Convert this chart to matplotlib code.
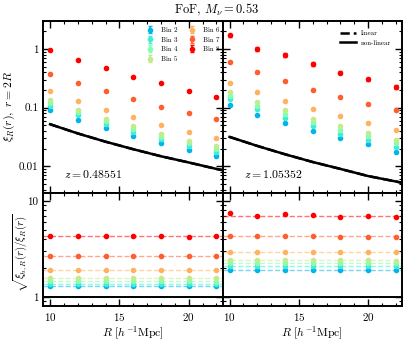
import numpy as np
import matplotlib
matplotlib.use("Agg")
import matplotlib.pyplot as plt
from matplotlib.ticker import FuncFormatter, MultipleLocator, NullFormatter

plt.rcParams['font.family'] = 'cmr10'
plt.rcParams['mathtext.fontset'] = 'cm'
plt.rcParams['axes.unicode_minus'] = False
plt.rcParams['axes.formatter.use_mathtext'] = True

# ---- data ----
R = [10, 12, 14, 16, 18, 20, 22]
bins = ['Bin 2', 'Bin 3', 'Bin 4', 'Bin 5', 'Bin 6', 'Bin 7', 'Bin 8']
redshifts = ['0.48551', '1.05352']

# xi_hh(2R) for each bin, z = 0.48551
xi_z0 = [
    [0.091, 0.062, 0.045, 0.033, 0.0246, 0.0189, 0.0150],
    [0.106, 0.074, 0.052, 0.038, 0.029, 0.0218, 0.0173],
    [0.120, 0.083, 0.059, 0.043, 0.032, 0.0245, 0.0195],
    [0.133, 0.091, 0.065, 0.048, 0.036, 0.027, 0.0217],
    [0.189, 0.129, 0.092, 0.068, 0.051, 0.039, 0.030],
    [0.378, 0.259, 0.189, 0.138, 0.103, 0.081, 0.064],
    [0.95, 0.65, 0.47, 0.336, 0.259, 0.194, 0.151],
]
# xi_hh(2R) for each bin, z = 1.05352
xi_z1 = [
    [0.110, 0.074, 0.054, 0.040, 0.030, 0.0237, 0.0176],
    [0.138, 0.093, 0.067, 0.049, 0.036, 0.028, 0.021],
    [0.160, 0.108, 0.078, 0.057, 0.042, 0.033, 0.0247],
    [0.182, 0.123, 0.091, 0.065, 0.048, 0.0375, 0.028],
    [0.266, 0.182, 0.129, 0.096, 0.072, 0.055, 0.042],
    [0.59, 0.405, 0.284, 0.201, 0.151, 0.115, 0.091],
    [1.69, 0.99, 0.78, 0.554, 0.394, 0.303, 0.227],
]
# fractional errors
err_z0 = [0.01, 0.01, 0.01, 0.01, 0.015, 0.02, 0.03]
err_z1 = [0.01, 0.01, 0.01, 0.015, 0.02, 0.03, 0.07]

# matter correlation (linear / non-linear overlap)
R_curve = [10, 12, 14, 16, 18, 20, 22, 23]
xi_m_z0 = [0.052, 0.0362, 0.0262, 0.0195, 0.0148, 0.0116, 0.0090, 0.0081]
xi_m_z1 = [0.0316, 0.0222, 0.0160, 0.0118, 0.0090, 0.0068, 0.0055, 0.0049]

# sqrt(xi_hh / xi) bias
bias_z0 = [
    [1.31, 1.31, 1.31, 1.31, 1.30, 1.31, 1.30],
    [1.38, 1.38, 1.38, 1.38, 1.38, 1.38, 1.37],
    [1.46, 1.46, 1.46, 1.46, 1.46, 1.46, 1.45],
    [1.58, 1.58, 1.59, 1.58, 1.58, 1.58, 1.57],
    [1.90, 1.90, 1.90, 1.90, 1.90, 1.89, 1.89],
    [2.70, 2.69, 2.70, 2.69, 2.70, 2.69, 2.69],
    [4.33, 4.30, 4.31, 4.27, 4.32, 4.25, 4.27],
]
bias_z1 = [
    [1.90, 1.90, 1.90, 1.90, 1.90, 1.90, 1.89],
    [2.09, 2.09, 2.09, 2.09, 2.09, 2.09, 2.08],
    [2.26, 2.26, 2.26, 2.26, 2.26, 2.26, 2.25],
    [2.41, 2.41, 2.41, 2.41, 2.41, 2.41, 2.40],
    [2.96, 2.94, 2.94, 2.94, 2.94, 2.94, 2.93],
    [4.36, 4.30, 4.29, 4.27, 4.25, 4.24, 4.23],
    [7.46, 6.95, 7.23, 7.11, 6.83, 6.89, 6.73],
]

colors = [plt.cm.rainbow(k / 8.0) for k in range(2, 9)]

fig = plt.figure(figsize=(4.07, 3.42), dpi=100)
gs = fig.add_gridspec(2, 2, height_ratios=[172, 113], wspace=0, hspace=0,
                      left=0.106, right=0.988, top=0.939, bottom=0.105)
axes_top = [fig.add_subplot(gs[0, 0]), None]
axes_top[1] = fig.add_subplot(gs[0, 1], sharey=axes_top[0])
axes_bot = [fig.add_subplot(gs[1, 0], sharex=axes_top[0]), None]
axes_bot[1] = fig.add_subplot(gs[1, 1], sharey=axes_bot[0], sharex=axes_top[1])

fmt = FuncFormatter(lambda v, p: '%g' % v)

for j, (xis, errs, xim, bias, zlab) in enumerate(zip(
        [xi_z0, xi_z1], [err_z0, err_z1], [xi_m_z0, xi_m_z1],
        [bias_z0, bias_z1], redshifts)):
    ax = axes_top[j]
    bx = axes_bot[j]
    handles = []
    for i, (lab, c) in enumerate(zip(bins, colors)):
        y = np.array(xis[i])
        h = ax.errorbar(R, y, yerr=errs[i] * y, fmt='o', ms=3, color=c,
                        elinewidth=1.2, capsize=1.5, capthick=1.0, label=lab)
        handles.append(h)
        b = np.array(bias[i])
        bx.plot(R, b, 'o', ms=3, color=c, zorder=3)
        bx.axhline(b.mean(), ls='--', lw=1.0, color=c, alpha=0.55)
    l1, = ax.plot(R_curve, xim, 'k--', lw=1.8, label='linear')
    l2, = ax.plot(R_curve, xim, 'k-', lw=1.8, label='non-linear')
    bx.axhline(1.0, color='k', lw=1.4)
    ax.text(0.117, 0.11, r'$z = %s$' % zlab, transform=ax.transAxes,
            fontsize=8.5, ha='left', va='center')

    ax.set_yscale('log')
    bx.set_yscale('log')
    ax.set_xlim(9.5, 22.45)
    bx.set_xlim(9.5, 22.45)
    for a in (ax, bx):
        a.xaxis.set_major_locator(MultipleLocator(5))
        a.xaxis.set_minor_locator(MultipleLocator(1))
        a.tick_params(which='both', direction='in', top=True, right=True,
                      labelsize=8)
        a.tick_params(which='major', length=5, width=1.0)
        a.tick_params(which='minor', length=2.5, width=0.8)
        for s in a.spines.values():
            s.set_linewidth(1.4)
    ax.tick_params(labelbottom=False)
    bx.set_xlabel(r'$R\ [h^{-1}{\rm Mpc}]$', fontsize=8.5, labelpad=1)

    if j == 0:
        ax.legend(handles=handles, ncol=2, loc='upper right', fontsize=5,
                  frameon=False, handlelength=0.9, handletextpad=1.2,
                  columnspacing=1.6, labelspacing=0.55,
                  bbox_to_anchor=(1.02, 1.0))
    else:
        ax.legend(handles=[l1, l2], loc='upper right', fontsize=5,
                  frameon=False, handlelength=2.2, handletextpad=0.8,
                  labelspacing=0.5, bbox_to_anchor=(0.975, 0.98))
        ax.tick_params(labelleft=False)
        bx.tick_params(labelleft=False)

axes_top[0].set_ylim(0.0035, 3.0)
axes_bot[0].set_ylim(0.805, 12.1)
axes_top[0].yaxis.set_major_formatter(fmt)
axes_bot[0].yaxis.set_major_formatter(fmt)
axes_top[0].yaxis.set_minor_formatter(NullFormatter())
axes_bot[0].yaxis.set_minor_formatter(NullFormatter())
axes_top[0].set_ylabel(r'$\xi_R(r),\ r = 2R$', fontsize=8.5)
axes_bot[0].set_ylabel(r'$\sqrt{\xi_{h,R}(r)/\xi_R(r)}$', fontsize=7.8)
axes_top[0].yaxis.set_label_coords(-0.145, 0.5)
axes_bot[0].yaxis.set_label_coords(-0.07, 0.47)

fig.text(0.533, 0.971, r'FoF, $M_\nu = 0.53$', fontsize=9, ha='center', va='center')

fig.savefig('out.png', dpi=100)
